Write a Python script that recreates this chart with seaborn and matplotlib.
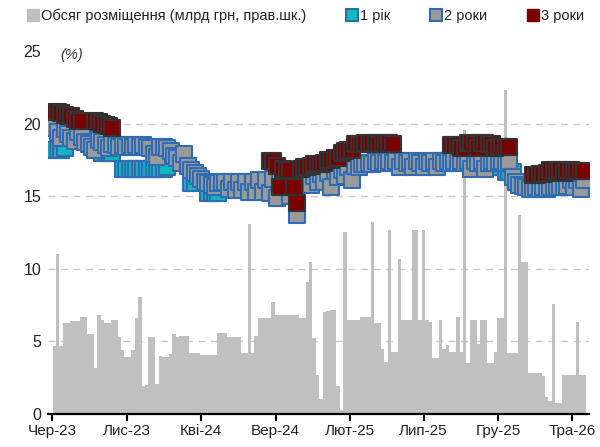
import numpy as np
import pandas as pd
import matplotlib
matplotlib.use("Agg")
import matplotlib.pyplot as plt
from matplotlib.lines import Line2D
import seaborn as sns

# ---------------- data ----------------
start_date = "2023-06-06"   # first weekly auction
n_weeks = 156

volume = [4.7, 11.0, 4.7, 6.3, 6.3, 6.4, 6.4, 6.4, 6.7, 6.7,
          5.5, 5.5, 3.2, 6.8, 6.5, 6.3, 6.3, 6.5, 6.5, 5.3,
          4.4, 3.9, 3.9, 4.4, 6.6, 8.05, 1.9, 2.0, 5.3, 5.3,
          2.1, 4.0, 3.9, 3.9, 4.1, 5.5, 5.3, 5.4, 5.4, 5.4,
          4.2, 4.2, 4.2, 4.05, 4.05, 4.05, 4.05, 4.05, 5.55, 5.55,
          5.55, 5.3, 5.3, 5.3, 5.3, 4.2, 4.2, 13.1, 4.2, 5.4,
          6.6, 6.6, 6.6, 6.6, 7.7, 6.8, 6.8, 6.8, 6.8, 6.8,
          6.8, 6.8, 6.6, 6.6, 9.1, 10.5, 5.2, 2.7, 1.0, 7.0,
          7.1, 7.15, 7.15, 1.9, 0.3, 12.55, 6.5, 6.5, 6.5, 6.5,
          6.7, 6.7, 6.7, 13.25, 6.25, 6.25, 4.5, 3.6, 12.7, 4.3,
          4.3, 10.65, 6.5, 6.5, 6.5, 12.7, 12.65, 6.5, 12.7, 6.5,
          6.35, 3.85, 3.85, 6.5, 4.5, 4.75, 4.3, 4.3, 6.7, 4.3,
          19.55, 3.5, 6.5, 6.5, 4.8, 6.5, 6.5, 3.5, 3.5, 4.3,
          6.6, 6.6, 22.3, 4.2, 4.2, 4.2, 13.7, 10.5, 10.5, 2.8,
          2.8, 2.8, 2.8, 2.6, 1.2, 0.9, 7.6, 0.75, 0.75, 2.7,
          2.7, 2.7, 2.7, 6.35, 2.7, 2.7]

nan = np.nan
yield_1y = [18.2, 18.2, 18.2, 18.3, nan, nan, nan, nan, nan, nan,
            nan, nan, nan, nan, 18.0, 18.0, 17.95, 18.0, nan, nan,
            16.9, 16.9, 16.9, 16.9, 16.9, 16.9, 16.9, 16.9, 16.9, 16.9,
            16.9, 16.9, 16.9, 17.0, nan, nan, nan, nan, nan, nan,
            15.9, 15.9, nan, nan, nan, 15.2, 15.2, 15.2, 15.2, nan,
            nan, nan, nan, nan, nan, nan, nan, nan, nan, nan,
            nan, nan, nan, nan, nan, nan, nan, 15.1, nan, nan,
            nan, nan, nan, nan, nan, nan, nan, nan, nan, nan,
            nan, nan, nan, nan, nan, nan, nan, nan, nan, nan,
            nan, nan, nan, nan, nan, nan, nan, nan, nan, nan,
            nan, nan, nan, nan, nan, nan, nan, nan, nan, nan,
            nan, nan, nan, nan, nan, nan, nan, nan, nan, nan,
            nan, nan, nan, nan, nan, nan, nan, nan, nan, nan,
            17.0, nan, 16.65, 16.65, 16.65, nan, nan, nan, nan, nan,
            nan, nan, nan, nan, nan, nan, nan, nan, nan, nan,
            nan, nan, nan, nan, nan, nan]

yield_2y = [19.7, 19.4, 19.0, 19.6, 19.3, 19.0, 18.8, 19.4, 19.1, 18.7,
            18.6, 18.4, 18.2, 18.9, 18.7, 18.5, 18.3, 18.6, 18.5, 18.4,
            18.5, 18.4, 18.5, 18.4, 18.5, 18.4, 18.5, 18.4, 18.3, 17.9,
            17.7, 18.4, 18.4, 18.3, 18.1, 17.8, 17.6, 17.3, 17.9, 17.1,
            16.8, 16.6, 16.4, 16.2, 16.0, 15.9, 15.8, 15.6, 15.9, 16.0,
            16.0, 15.5, 16.0, 15.4, 16.0, 15.4, 16.0, 15.3, 16.0, 15.3,
            16.1, 15.3, 16.1, 15.2, 16.2, 14.9, 16.2, 15.8, 16.2, 15.0,
            16.0, 13.7, 16.3, 15.9, 16.4, 15.8, 16.4, 16.0, 16.5, 16.0,
            16.6, 15.65, 16.7, 16.3, 16.8, 16.4, 17.0, 16.1, 17.1, 17.0,
            17.2, 17.2, 17.3, 17.2, 17.4, 17.3, 17.4, 17.3, 17.4, 17.3,
            17.4, 17.0, 17.4, 17.3, 17.4, 17.0, 17.4, 17.3, 17.0, 17.4,
            17.3, 17.4, 17.0, 17.4, 17.3, 17.4, 17.3, 17.4, 17.3, 17.4,
            17.3, 17.4, 16.9, 17.4, 17.3, 17.4, 16.9, 17.3, 17.4, 17.3,
            17.4, 17.4, 17.3, 17.45, 16.3, 16.0, 15.8, 15.7, 15.6, 15.5,
            15.5, 15.6, 15.5, 15.6, 15.5, 15.6, 15.6, 15.6, 15.6, 15.6,
            15.7, 16.1, 15.6, 16.1, 15.5, 16.1]

yield_3y = [20.8, 20.8, 20.7, 20.6, 20.5, 20.5, 20.3, 20.2, 20.15, nan,
            nan, nan, 20.2, 20.1, 20.0, 19.9, 19.8, 19.7, nan, nan,
            nan, nan, nan, nan, nan, nan, nan, nan, nan, nan,
            nan, nan, nan, nan, nan, nan, nan, nan, nan, nan,
            nan, nan, nan, nan, nan, nan, nan, nan, nan, nan,
            nan, nan, nan, nan, nan, nan, nan, nan, nan, nan,
            nan, nan, nan, 17.4, 17.4, 17.1, 15.6, 16.9, 16.8, 16.8,
            15.6, 14.5, 16.9, 17.0, 17.0, 17.1, 17.2, 17.2, 17.2, 17.3,
            17.5, 17.5, 17.6, 17.6, 18.0, 18.1, 18.2, 18.2, 18.6, 18.6,
            18.6, 18.65, 18.6, 18.65, 18.65, 18.6, 18.65, 18.6, 18.65, 18.6,
            nan, nan, nan, nan, nan, nan, nan, nan, nan, nan,
            nan, nan, nan, nan, nan, nan, 18.5, 18.5, 18.55, 18.3,
            18.3, 18.65, 18.65, 18.6, 18.3, 18.65, 18.65, 18.6, 18.6, 18.3,
            18.4, 18.4, 18.4, 18.4, nan, nan, nan, nan, nan, nan,
            16.45, 16.45, 16.5, 16.5, 16.6, 16.8, 16.8, 16.7, 16.8, 16.6,
            16.8, 16.8, 16.75, 16.75, 16.75, 16.75]

tick_dates = ["2023-06-01", "2023-11-01", "2024-04-01", "2024-09-01",
              "2025-02-01", "2025-07-01", "2025-12-01", "2026-05-01"]
tick_labels = ["Чер-23", "Лис-23", "Кві-24", "Вер-24",
               "Лют-25", "Лип-25", "Гру-25", "Тра-26"]
y_ticks = [0, 5, 10, 15, 20, 25]

legend_labels = ["Обсяг розміщення (млрд грн, прав.шк.)", "1 рік", "2 роки", "3 роки"]

dates = pd.date_range(start_date, periods=n_weeks, freq="7D")
df = pd.DataFrame({"date": dates, "volume": volume,
                   "y1": yield_1y, "y2": yield_2y, "y3": yield_3y})

# ---------------- style ----------------
sns.set_style("white")
plt.rcParams["font.family"] = ["Liberation Sans", "DejaVu Sans"]

C_BAR = "#c0c0c0"
C_1Y = "#10b8bc"
C_2Y = "#9a9a9a"
C_BLUE = "#2f6cb3"
C_3Y = "#7a0000"
C_3E = "#333333"
C_TXT = "#222222"

fig = plt.figure(figsize=(6.0, 4.47), dpi=100)
ax = fig.add_axes([0.08, 0.0738, 0.902, 0.8122])

ax.bar(df["date"], df["volume"], width=7.0, color=C_BAR, linewidth=0,
       zorder=1)

for yv in [5, 10, 15, 20]:
    ax.axhline(yv, color="#c8c8c8", linewidth=1.0, linestyle=(0, (5, 4)),
               zorder=0.5)

sns.scatterplot(data=df, x="date", y="y1", marker="s", s=118, color=C_1Y,
                edgecolor=C_BLUE, linewidth=1.5, ax=ax, zorder=3, legend=False)
sns.scatterplot(data=df, x="date", y="y2", marker="s", s=118, color=C_2Y,
                edgecolor=C_BLUE, linewidth=1.5, ax=ax, zorder=4, legend=False)
sns.scatterplot(data=df, x="date", y="y3", marker="s", s=128, color=C_3Y,
                edgecolor=C_3E, linewidth=1.5, ax=ax, zorder=5, legend=False)

ax.set_xlim(pd.Timestamp("2023-05-24"), pd.Timestamp("2026-06-05"))
ax.set_ylim(0, 25)
ax.set_xlabel("")
ax.set_ylabel("")
ax.set_yticks(y_ticks)
ax.set_yticklabels([str(v) for v in y_ticks], fontsize=11.5, color=C_TXT)
ax.set_xticks(pd.to_datetime(tick_dates))
ax.set_xticklabels(tick_labels, fontsize=11, color=C_TXT)

for side in ["left", "right", "top"]:
    ax.spines[side].set_visible(False)
ax.spines["bottom"].set_color("black")
ax.spines["bottom"].set_linewidth(1.6)
ax.tick_params(axis="x", direction="out", length=5, width=1.5, color="black",
               pad=2, bottom=True)
ax.tick_params(axis="y", length=0, pad=5)

fig.text(60 / 600, 1 - 55 / 447, "(%)", style="italic", fontsize=10.5,
         va="center", ha="left", color="#333333")

handles = [
    Line2D([], [], marker="s", linestyle="", markersize=9, markerfacecolor=C_BAR,
           markeredgecolor=C_BAR),
    Line2D([], [], marker="s", linestyle="", markersize=8, markerfacecolor=C_1Y,
           markeredgecolor=C_BLUE, markeredgewidth=1.5),
    Line2D([], [], marker="s", linestyle="", markersize=8, markerfacecolor=C_2Y,
           markeredgecolor=C_BLUE, markeredgewidth=1.5),
    Line2D([], [], marker="s", linestyle="", markersize=9, markerfacecolor=C_3Y,
           markeredgecolor=C_3Y),
]
leg = fig.legend(handles, legend_labels, loc="center left",
                 bbox_to_anchor=(26 / 600, 1 - 16 / 447), ncol=4, frameon=False,
                 fontsize=10.5, handlelength=0.9, handletextpad=0.1,
                 columnspacing=2.7, borderaxespad=0, borderpad=0)
for t in leg.get_texts():
    t.set_color(C_TXT)

fig.savefig("out.png", dpi=100)
